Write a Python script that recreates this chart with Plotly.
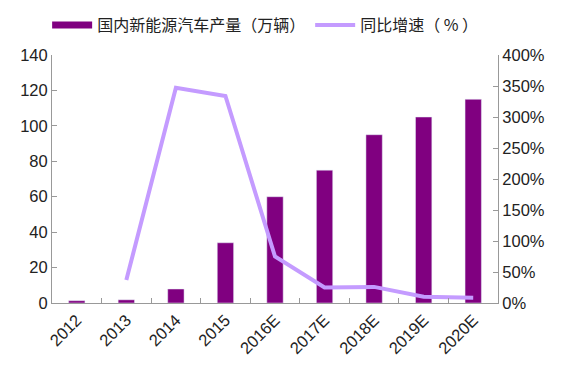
import plotly.graph_objects as go

years = ["2012", "2013", "2014", "2015", "2016E", "2017E", "2018E", "2019E", "2020E"]
production = [1.3, 1.8, 7.9, 34, 60, 75, 95, 105, 115]
growth = [None, 37, 347, 334, 75, 25, 26, 10, 8.5]

bar_name = "国内新能源汽车产量（万辆）"
line_name = "同比增速（ % ）"
bar_color = "#800080"
line_color = "#C49BFF"

fig = go.Figure()
fig.add_trace(go.Bar(x=years, y=production, name=bar_name, marker_color=bar_color,
                     width=0.33, showlegend=False, yaxis="y"))
fig.add_trace(go.Scatter(x=years, y=growth, name=line_name, mode="lines",
                         line=dict(color=line_color, width=4), showlegend=False, yaxis="y2"))
# legend entries
fig.add_trace(go.Scatter(x=[None], y=[None], name=bar_name, mode="lines",
                         line=dict(color=bar_color, width=7)))
fig.add_trace(go.Scatter(x=[None], y=[None], name=line_name, mode="lines",
                         line=dict(color=line_color, width=4)))

axis_font = dict(family="Liberation Sans, Arial, sans-serif", size=16.5, color="#222")
fig.update_layout(
    width=559, height=369,
    margin=dict(l=44, r=69, t=47, b=74, autoexpand=False),
    paper_bgcolor="white", plot_bgcolor="white",
    font=dict(family="Liberation Sans, Noto Sans CJK SC, sans-serif"),
    legend=dict(orientation="h", x=0.46, xref="container", xanchor="center",
                y=1.0, yref="container", yanchor="top", itemwidth=40,
                font=dict(family="Noto Sans CJK SC", size=16, color="#222"),
                tracegroupgap=0),
    xaxis=dict(showline=True, linecolor="#999", ticks="inside", tickson="boundaries",
               ticklen=5, tickcolor="#999", tickangle=-45, tickfont=axis_font,
               showgrid=False, automargin=False),
    yaxis=dict(range=[0, 140], dtick=20, showline=True, linecolor="#999", ticks="inside",
               ticklen=5, tickcolor="#999", tickfont=axis_font, showgrid=False,
               zeroline=False, automargin=False),
    yaxis2=dict(range=[0, 400], dtick=50, overlaying="y", side="right", showline=True,
                linecolor="#999", ticks="inside", ticklen=5, tickcolor="#999",
                ticksuffix="%", tickfont=axis_font, showgrid=False, zeroline=False,
                automargin=False),
)
fig.write_html("out.html")
